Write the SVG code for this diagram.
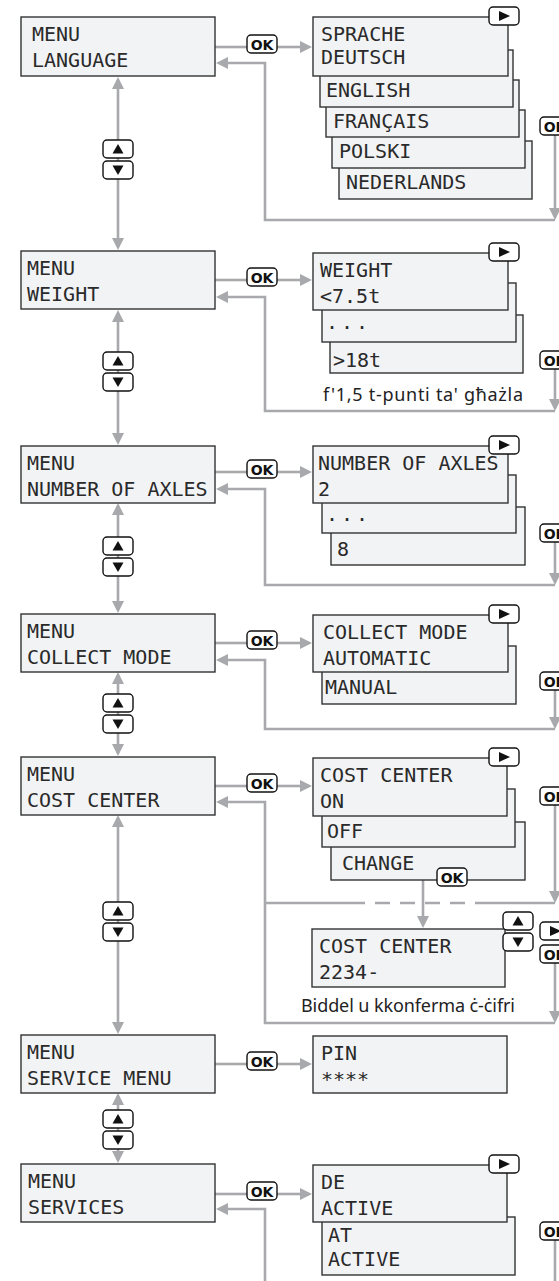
<svg xmlns="http://www.w3.org/2000/svg" xmlns:xlink="http://www.w3.org/1999/xlink" width="559" height="1281" viewBox="0 0 559 1281">
<style>
.box{fill:#f2f3f5;stroke:#333;stroke-width:1.4}
.lcd{font-family:"DejaVu Sans Mono","Liberation Mono",monospace;font-size:20px;fill:#2a2a2a}
.conn{stroke:#a7a9ac;stroke-width:2.6;fill:none}
.arr{marker-end:url(#ah)}
.arr2{marker-start:url(#ah);marker-end:url(#ah)}
.btn{fill:#fff;stroke:#111;stroke-width:1.4}
.ok{font-family:"DejaVu Sans","Liberation Sans",sans-serif;font-weight:bold;font-size:14px;fill:#111;text-anchor:middle}
.cap{font-family:"Noto Sans","Open Sans",sans-serif;font-size:18px;fill:#222}
</style>
<defs>
<marker id="ah" viewBox="0 0 12 12" refX="9" refY="6" markerWidth="12" markerHeight="12" markerUnits="userSpaceOnUse" orient="auto-start-reverse"><path d="M0,0 L12,6 L0,12 z" fill="#a7a9ac"/></marker>
<g id="bUp"><rect x="0" y="0" width="30" height="18" rx="4" class="btn"/><path d="M15,4 L20.5,13.5 L9.5,13.5 z" fill="#111"/></g>
<g id="bDown"><rect x="0" y="0" width="30" height="18" rx="4" class="btn"/><path d="M9.5,4.5 L20.5,4.5 L15,14 z" fill="#111"/></g>
<g id="bPlay"><rect x="0" y="0" width="30" height="18" rx="4" class="btn"/><path d="M10,4 L21,9 L10,14 z" fill="#111"/></g>
<g id="bOk"><rect x="0" y="0" width="30" height="18" rx="4" class="btn"/><text x="15" y="14.5" class="ok">OK</text></g>
</defs>
<rect width="559" height="1281" fill="#fff"/>

<g id="connectors">
<path class="conn arr2" d="M118,80 V247"/>
<path class="conn arr2" d="M118,313 V442"/>
<path class="conn arr2" d="M118,506 V610"/>
<path class="conn arr2" d="M118,675 V753"/>
<path class="conn arr2" d="M118,818 V1031"/>
<path class="conn arr2" d="M118,1096 V1160"/>
<path class="conn" d="M215,47 H247"/><path class="conn arr" d="M277,47 H309"/>
<path class="conn" d="M215,280 H247"/><path class="conn arr" d="M277,280 H309"/>
<path class="conn" d="M215,472 H247"/><path class="conn arr" d="M277,472 H309"/>
<path class="conn" d="M215,643 H247"/><path class="conn arr" d="M277,643 H309"/>
<path class="conn" d="M215,786 H247"/><path class="conn arr" d="M277,786 H309"/>
<path class="conn" d="M215,1064 H247"/><path class="conn arr" d="M277,1064 H309"/>
<path class="conn" d="M215,1194 H247"/><path class="conn arr" d="M277,1194 H309"/>
<path class="conn arr" d="M555,220 H265 V63 H219"/>
<path class="conn arr" d="M555,135 V217"/>
<path class="conn arr" d="M555,411 H265 V297 H219"/>
<path class="conn arr" d="M555,369 V408"/>
<path class="conn arr" d="M555,585 H265 V489 H219"/>
<path class="conn arr" d="M555,542 V582"/>
<path class="conn arr" d="M555,729 H265 V660 H219"/>
<path class="conn arr" d="M555,690 V726"/>
<path class="conn arr" d="M555,1023 H265 V802 H219"/>
<path class="conn" d="M265,903 H365"/>
<path class="conn" d="M365,903 H478" stroke-dasharray="15,10" stroke-dashoffset="-10"/>
<path class="conn" d="M478,903 H555"/>
<path class="conn arr" d="M555,805 V900"/>
<path class="conn arr" d="M423,880 V925"/>
<path class="conn arr" d="M555,963 V1020"/>
<path class="conn arr" d="M265,1281 V1209 H219"/>
<path class="conn" d="M555,1240 V1281"/>
</g>

<g id="menu-language"><rect class="box" x="21" y="17" width="194" height="59"/><text class="lcd" x="32" y="41">MENU</text><text class="lcd" x="32" y="67">LANGUAGE</text></g>
<g id="menu-weight"><rect class="box" x="21" y="251" width="194" height="58"/><text class="lcd" x="27" y="275">MENU</text><text class="lcd" x="27" y="301">WEIGHT</text></g>
<g id="menu-axles"><rect class="box" x="21" y="446" width="194" height="57"/><text class="lcd" x="27" y="470">MENU</text><text class="lcd" x="27" y="496">NUMBER OF AXLES</text></g>
<g id="menu-collect"><rect class="box" x="21" y="614" width="194" height="58"/><text class="lcd" x="27" y="638">MENU</text><text class="lcd" x="27" y="664">COLLECT MODE</text></g>
<g id="menu-cost"><rect class="box" x="21" y="757" width="194" height="58"/><text class="lcd" x="27" y="781">MENU</text><text class="lcd" x="27" y="807">COST CENTER</text></g>
<g id="menu-service"><rect class="box" x="21" y="1035" width="194" height="58"/><text class="lcd" x="27" y="1059">MENU</text><text class="lcd" x="27" y="1085">SERVICE MENU</text></g>
<g id="menu-services"><rect class="box" x="21" y="1164" width="194" height="58"/><text class="lcd" x="28" y="1188">MENU</text><text class="lcd" x="28" y="1214">SERVICES</text></g>

<g id="sub-language">
<rect class="box" x="339" y="141" width="193" height="58"/><text class="lcd" x="346" y="189">NEDERLANDS</text>
<rect class="box" x="332" y="110" width="193" height="58"/><text class="lcd" x="339" y="158">POLSKI</text>
<rect class="box" x="326" y="80" width="193" height="57"/><text class="lcd" x="333" y="128">FRANÇAIS</text>
<rect class="box" x="320" y="50" width="193" height="57"/><text class="lcd" x="326" y="97">ENGLISH</text>
<rect class="box" x="313" y="17" width="195" height="59"/><text class="lcd" x="321" y="41">SPRACHE</text><text class="lcd" x="321" y="64">DEUTSCH</text>
</g>
<g id="sub-weight">
<rect class="box" x="330" y="315" width="193" height="58"/><text class="lcd" x="333" y="367">&gt;18t</text>
<rect class="box" x="322" y="283" width="194" height="59"/><text class="lcd" x="326" y="329" letter-spacing="3">...</text>
<rect class="box" x="313" y="253" width="195" height="57"/><text class="lcd" x="320" y="277">WEIGHT</text><text class="lcd" x="320" y="303">&lt;7.5t</text>
</g>
<g id="sub-axles">
<rect class="box" x="331" y="507" width="194" height="58"/><text class="lcd" x="337" y="556">8</text>
<rect class="box" x="322" y="475" width="194" height="58"/><text class="lcd" x="326" y="521" letter-spacing="3">...</text>
<rect class="box" x="313" y="446" width="195" height="57"/><text class="lcd" x="318" y="470">NUMBER OF AXLES</text><text class="lcd" x="318" y="496">2</text>
</g>
<g id="sub-collect">
<rect class="box" x="322" y="646" width="194" height="58"/><text class="lcd" x="325" y="694">MANUAL</text>
<rect class="box" x="313" y="615" width="195" height="57"/><text class="lcd" x="323" y="639">COLLECT MODE</text><text class="lcd" x="323" y="665">AUTOMATIC</text>
</g>
<g id="sub-cost">
<rect class="box" x="331" y="822" width="194" height="58"/><text class="lcd" x="342" y="870">CHANGE</text>
<rect class="box" x="322" y="789" width="193" height="58"/><text class="lcd" x="327" y="838">OFF</text>
<rect class="box" x="313" y="758" width="194" height="58"/><text class="lcd" x="320" y="782">COST CENTER</text><text class="lcd" x="320" y="808">ON</text>
</g>
<g id="sub-cost-entry"><rect class="box" x="312" y="929" width="193" height="58"/><text class="lcd" x="319" y="953">COST CENTER</text><text class="lcd" x="319" y="979">2234-</text></g>
<g id="sub-pin"><rect class="box" x="313" y="1036" width="194" height="57"/><text class="lcd" x="321" y="1060">PIN</text><text class="lcd" x="321" y="1086">****</text></g>
<g id="sub-services">
<rect class="box" x="322" y="1217" width="193" height="58"/><text class="lcd" x="328" y="1242">AT</text><text class="lcd" x="328" y="1266">ACTIVE</text>
<rect class="box" x="313" y="1165" width="194" height="57"/><text class="lcd" x="321" y="1189">DE</text><text class="lcd" x="321" y="1215">ACTIVE</text>
</g>

<g id="buttons">
<use xlink:href="#bUp" x="103" y="140"/><use xlink:href="#bDown" x="103" y="161"/>
<use xlink:href="#bUp" x="103" y="352"/><use xlink:href="#bDown" x="103" y="373"/>
<use xlink:href="#bUp" x="103" y="537"/><use xlink:href="#bDown" x="103" y="558"/>
<use xlink:href="#bUp" x="103" y="694"/><use xlink:href="#bDown" x="103" y="715"/>
<use xlink:href="#bUp" x="103" y="902"/><use xlink:href="#bDown" x="103" y="923"/>
<use xlink:href="#bUp" x="103" y="1110"/><use xlink:href="#bDown" x="103" y="1131"/>
<use xlink:href="#bOk" x="247" y="35"/>
<use xlink:href="#bOk" x="247" y="268"/>
<use xlink:href="#bOk" x="247" y="460"/>
<use xlink:href="#bOk" x="247" y="631"/>
<use xlink:href="#bOk" x="247" y="774"/>
<use xlink:href="#bOk" x="247" y="1052"/>
<use xlink:href="#bOk" x="247" y="1182"/>
<use xlink:href="#bPlay" x="489" y="7"/>
<use xlink:href="#bPlay" x="489" y="243"/>
<use xlink:href="#bPlay" x="489" y="436"/>
<use xlink:href="#bPlay" x="489" y="605"/>
<use xlink:href="#bPlay" x="489" y="748"/>
<use xlink:href="#bPlay" x="489" y="1155"/>
<use xlink:href="#bOk" x="540" y="117"/>
<use xlink:href="#bOk" x="540" y="351"/>
<use xlink:href="#bOk" x="540" y="524"/>
<use xlink:href="#bOk" x="540" y="672"/>
<use xlink:href="#bOk" x="540" y="787"/>
<use xlink:href="#bOk" x="437" y="868"/>
<use xlink:href="#bUp" x="503" y="912"/><use xlink:href="#bDown" x="503" y="933"/>
<use xlink:href="#bPlay" x="540" y="922"/>
<use xlink:href="#bOk" x="540" y="945"/>
<use xlink:href="#bOk" x="540" y="1222"/>
</g>

<g id="captions">
<text class="cap" x="323" y="401" textLength="200">f'1,5 t-punti ta' għażla</text>
<text class="cap" x="301" y="1012" textLength="214">Biddel u kkonferma ċ-ċifri</text>
</g>
</svg>
